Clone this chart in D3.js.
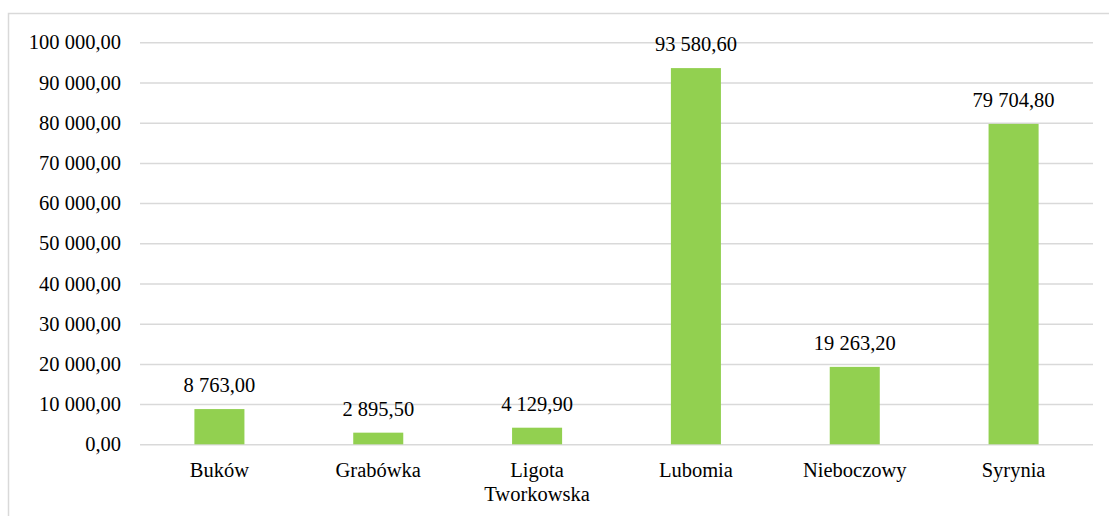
<!DOCTYPE html>
<html>
<head>
<meta charset="utf-8">
<script src="https://cdn.jsdelivr.net/npm/d3@7"></script>
<style>
  html, body { margin: 0; padding: 0; background: #fff; }
  svg { display: block; }
</style>
</head>
<body>
<svg id="chart" width="1109" height="516" font-family="Liberation Serif" font-size="20.5"></svg>
<script>
// Wartości dla sołectw
const categories = ["Buków", "Grabówka", "Ligota Tworkowska", "Lubomia", "Nieboczowy", "Syrynia"];
const values = [8763.00, 2895.50, 4129.90, 93580.60, 19263.20, 79704.80];
const tickValues = [0, 10000, 20000, 30000, 40000, 50000, 60000, 70000, 80000, 90000, 100000];

const W = 1109, H = 516;
const FAMILY = "Liberation Serif";
const SIZE = 20.5;
const margin = { left: 140, right: 16, top: 42.3, bottom: 71.7 };
const svg = d3.select("#chart");

// Ramka obszaru wykresu
svg.append("rect")
  .attr("x", 8.5).attr("y", 13.5)
  .attr("width", W + 10).attr("height", H + 10)
  .attr("fill", "none")
  .attr("stroke", "#d9d9d9")
  .attr("stroke-width", 1.5);

const x = d3.scaleBand()
  .domain(categories)
  .range([margin.left, W - margin.right])
  .paddingInner(0.685)
  .paddingOuter(0.3425);

const y = d3.scaleLinear()
  .domain([0, 100000])
  .range([H - margin.bottom, margin.top]);

// Format liczb: spacja jako separator tysięcy, przecinek dziesiętny
const fmt = d3.formatLocale({ decimal: ",", thousands: " ", grouping: [3], currency: ["", " zł"] }).format(",.2f");

// Linie siatki i etykiety osi Y
const yAxis = d3.axisLeft(y)
  .tickValues(tickValues)
  .tickSize(-(W - margin.right - margin.left))
  .tickPadding(19)
  .tickFormat(fmt);

const gy = svg.append("g")
  .attr("transform", `translate(${margin.left},0)`)
  .call(yAxis)
  .attr("font-family", FAMILY)
  .attr("font-size", SIZE);
gy.select(".domain").remove();
gy.selectAll(".tick line").attr("stroke", "#d9d9d9").attr("stroke-width", 1.5);
gy.selectAll(".tick text")
  .attr("font-family", FAMILY)
  .attr("font-size", SIZE)
  .attr("fill", "#000");

// Słupki
svg.append("g").selectAll("rect")
  .data(values)
  .join("rect")
  .attr("x", (d, i) => x(categories[i]))
  .attr("y", d => y(d))
  .attr("width", x.bandwidth())
  .attr("height", d => y(0) - y(d))
  .attr("fill", "#92d050");

// Etykiety wartości nad słupkami
svg.append("g").selectAll("text")
  .data(values)
  .join("text")
  .attr("x", (d, i) => x(categories[i]) + x.bandwidth() / 2)
  .attr("y", d => y(d) - 17)
  .attr("text-anchor", "middle")
  .attr("font-family", FAMILY)
  .attr("font-size", SIZE)
  .attr("fill", "#000")
  .text(d => fmt(d));

// Etykiety kategorii (z łamaniem wierszy)
const xl = svg.append("g");
categories.forEach(c => {
  const cx = x(c) + x.bandwidth() / 2;
  const words = c.split(" ");
  const t = xl.append("text")
    .attr("x", cx)
    .attr("y", 477)
    .attr("text-anchor", "middle")
    .attr("font-family", FAMILY)
    .attr("font-size", SIZE)
    .attr("fill", "#000");
  words.forEach((w, k) => {
    t.append("tspan").attr("x", cx).attr("dy", k === 0 ? 0 : 24).text(w);
  });
});
</script>
</body>
</html>
